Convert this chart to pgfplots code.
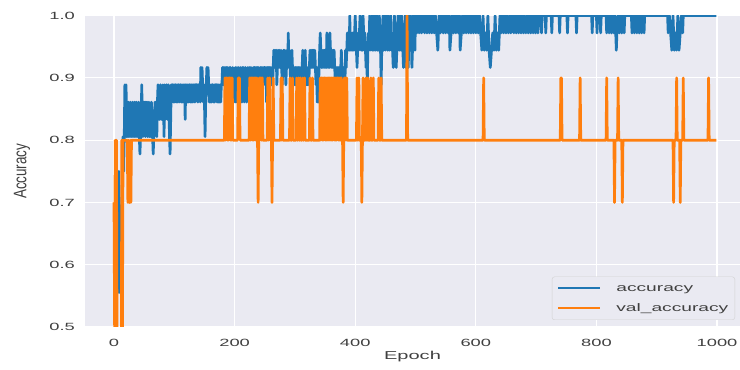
\documentclass[border=0pt]{standalone}
\usepackage{pgfplots}
\pgfplotsset{compat=1.18}
\usepackage{fontspec}
\setmainfont{Liberation Sans}
\usepackage{graphicx}
\definecolor{mblue}{HTML}{1F77B4}
\definecolor{morange}{HTML}{FF7F0E}
\definecolor{sbg}{HTML}{EAEAF2}
\definecolor{txt}{HTML}{404040}
\newcommand{\sx}[1]{\scalebox{1.75}[1]{#1}}
\begin{document}
\begin{tikzpicture}
\useasboundingbox (0,0) rectangle (740bp,370bp);
\begin{axis}[
  at={(85bp,43bp)}, anchor=south west,
  scale only axis, width=655bp, height=311.4bp,
  xmin=-48.1, xmax=1038.1, ymin=0.5, ymax=1.0,
  axis background/.style={fill=sbg},
  axis line style={draw=none},
  major tick length=0pt,
  grid=major, major grid style={white, line width=1.1bp},
  xtick={0,200,400,600,800,1000},
  ytick={0.5,0.6,0.7,0.8,0.9,1.0},
  tick label style={font=\fontsize{10.5}{12}\selectfont, text=txt},
  label style={font=\fontsize{11.5}{13}\selectfont, text=txt},
  yticklabel={\sx{\pgfmathprintnumber[fixed,fixed zerofill,precision=1,assume math mode=true]{\tick}}},
  xticklabel={\sx{\pgfmathprintnumber[int detect,1000 sep={},assume math mode=true]{\tick}}},
  yticklabel style={anchor=east, inner sep=0pt, xshift=-10bp},
  xticklabel style={anchor=north, inner sep=0pt, yshift=-12bp},
  xlabel={\sx{Epoch}},
  ylabel={\fontsize{13.5}{15}\selectfont\scalebox{1}[1.35]{Accuracy}},
  xlabel style={at={(axis description cs:0.5,-0.0963)}, anchor=center},
  ylabel style={at={(axis description cs:-0.0962,0.5)}, anchor=center, rotate=0},
  legend cell align=left,
  legend image code/.code={\draw[#1, line width=1.8bp] (0bp,0bp) -- (42bp,0bp);},
  legend style={at={(1,0)}, anchor=south east, xshift=-5bp, yshift=7bp,
    fill=sbg, draw=black!18, rounded corners=2.5bp,
    font=\fontsize{11}{13}\selectfont, text=txt,
    inner sep=5.5bp, row sep=8bp, column sep=14bp,
    nodes={inner sep=1bp, text height=8bp, text depth=2bp}},
  every axis plot/.append style={line width=2.7bp, line join=round},
]
\addplot[mblue] coordinates {
(0,.5556)(1,.5556)(2,.5833)(3,.5556)(4,.5556)(5,.5556)(6,.5556)(7,.5556)(8,.75)(9,.5556)(10,.5556)(11,.6944)(12,.6944)(13,.6389)(14,.7222)(15,.8056)(16,.75)(17,.8056)(18,.8889)(19,.8056)
(20,.8889)(21,.8056)(22,.8333)(23,.8056)(24,.8611)(25,.8056)(26,.8333)(27,.8611)(28,.8056)(29,.8333)(30,.8056)(31,.8611)(32,.8333)(33,.8056)(34,.8611)(35,.8056)(36,.8333)(37,.8611)(38,.8056)(39,.8333)
(40,.8056)(41,.8611)(42,.8056)(43,.7778)(44,.8056)(45,.8333)(46,.8889)(47,.8333)(48,.8056)(49,.8611)(50,.8333)(51,.8611)(52,.8056)(53,.8611)(54,.8333)(55,.8611)(56,.8056)(57,.8333)(58,.8611)(59,.8056)
(60,.8333)(61,.8056)(62,.8611)(63,.8333)(64,.8056)(65,.7778)(66,.8056)(67,.8333)(68,.8611)(69,.8333)(70,.8611)(71,.8056)(72,.8611)(73,.8889)(74,.8611)(75,.8333)(76,.8611)(77,.8889)(78,.8333)(79,.8611)
(80,.8333)(81,.8889)(82,.8611)(83,.8056)(84,.8889)(85,.8333)(86,.8611)(87,.8889)(88,.8611)(89,.8333)(90,.8889)(91,.8611)(92,.8056)(93,.7778)(94,.8333)
(95,.8889)(96,.8611)(97,.8889)(98,.8889)(99,.8611)(100,.8889)(101,.8611)(102,.8889)(103,.8889)(104,.8611)(105,.8889)(106,.8611)(107,.8889)(108,.8889)(109,.8611)(110,.8889)(111,.8889)(112,.8611)(113,.8889)(114,.8611)
(115,.8889)(116,.8611)(117,.8889)(118,.8333)(119,.8889)(120,.8611)(121,.8889)(122,.8611)(123,.8889)(124,.8611)(125,.8889)(126,.8889)(127,.8611)(128,.8889)(129,.8611)(130,.8889)(131,.8611)(132,.8889)(133,.8889)(134,.8611)
(135,.8889)(136,.8889)(137,.8889)(138,.8889)(139,.8611)(140,.8889)(141,.8889)(142,.8889)(143,.8611)
(144,.9167)(145,.8889)(146,.9167)(147,.8889)(148,.8611)(149,.8889)(150,.8611)(151,.8056)(152,.8611)(153,.8889)(154,.9167)(155,.8889)(156,.9167)(157,.8889)(158,.8611)(159,.8889)
(160,.8611)(161,.8889)(162,.8611)(163,.8889)(164,.8889)(165,.8611)(166,.8889)(167,.8611)(168,.8889)(169,.8889)(170,.8889)(171,.8611)(172,.8889)(173,.8611)(174,.8889)(175,.8611)(176,.8889)(177,.8611)(178,.8889)(179,.8889)
(180,.9167)(181,.8889)(182,.9167)(183,.8889)(184,.9167)(185,.8611)(186,.9167)(187,.8889)(188,.9167)(189,.8889)(190,.8611)(191,.9167)(192,.8889)(193,.9167)(194,.8889)(195,.8611)(196,.8889)(197,.9167)
(198,.8889)(199,.8611)(200,.8889)(201,.9167)(202,.8611)(203,.8889)(204,.9167)(205,.8611)(206,.8889)(207,.9167)(208,.8889)(209,.8611)(210,.9167)(211,.8889)(212,.8611)(213,.9167)(214,.8889)(215,.9167)(216,.8611)(217,.8889)
(218,.9167)(219,.8889)(220,.8611)(221,.8889)(222,.9167)(223,.8889)(224,.8611)(225,.9167)(226,.8889)(227,.9167)(228,.8889)(229,.8611)
(230,.8889)(231,.9167)(232,.8889)(233,.9167)(234,.9167)(235,.8889)(236,.9167)(237,.8889)(238,.9167)(239,.8889)(240,.9167)(241,.8889)(242,.8611)(243,.9167)(244,.8889)(245,.9167)(246,.8889)(247,.9167)(248,.8889)(249,.9167)
(250,.9167)(251,.8889)(252,.9167)(253,.8611)(254,.9167)(255,.8889)(256,.9167)(257,.8889)(258,.9167)(259,.8889)(260,.9167)(261,.8889)(262,.9167)(263,.8889)(264,.9167)
(265,.9444)(266,.9167)(267,.9444)(268,.9167)(269,.9444)(270,.8889)(271,.9167)(272,.9444)(273,.9167)(274,.9444)(275,.9167)(276,.9167)(277,.9444)(278,.9167)(279,.8889)(280,.9167)(281,.9444)(282,.9167)(283,.9444)(284,.9167)
(285,.8889)(286,.9167)(287,.9444)(288,.9167)(289,.9722)(290,.9167)(291,.9444)(292,.9167)(293,.8889)(294,.9167)(295,.9444)
(296,.9167)(297,.8889)(298,.9167)(299,.8889)(300,.9167)(301,.8889)(302,.9167)(303,.8889)(304,.9167)(305,.8889)(306,.9167)(307,.8889)(308,.9167)(309,.8889)(310,.9167)(311,.8889)(312,.9167)(313,.9444)(314,.9167)(315,.8889)
(316,.9167)(317,.9444)(318,.9167)(319,.8889)(320,.9167)(321,.8889)(322,.9167)(323,.8889)(324,.9167)(325,.9444)
(326,.9167)(327,.9444)(328,.9167)(329,.9444)(330,.9167)(331,.9444)(332,.9167)(333,.9444)(334,.9167)(335,.8889)(336,.9167)(337,.8611)(338,.8889)(339,.8611)(340,.9167)(341,.9444)(342,.9722)(343,.9444)(344,.9167)(345,.9444)
(346,.9167)(347,.9444)(348,.9167)(349,.9444)(350,.9167)(351,.9444)(352,.9167)(353,.9722)(354,.9444)(355,.9167)(356,.9444)(357,.9167)(358,.9722)(359,.9444)(360,.9167)(361,.9444)(362,.9167)(363,.9444)(364,.9167)(365,.9444)(366,.9167)
(367,.8889)(368,.9167)(369,.8889)(370,.9167)(371,.8889)(372,.9167)(373,.8889)(374,.9167)(375,.8889)(376,.9167)(377,.9444)(378,.9167)(379,.8889)(380,.9167)(381,.8889)(382,.9167)(383,.8889)(384,.9444)(385,.9167)(386,.9444)
(387,.9722)(388,.9444)(389,.9722)(390,.9444)(391,1)(392,.9444)(393,.9722)(394,.9444)(395,.9722)(396,.9444)(397,.9722)(398,.9444)(399,.9722)(400,1)(401,.9722)(402,.9444)(403,.9167)(404,.9444)(405,.9722)(406,.9444)
(407,.9722)(408,1)(409,.9722)(410,.9444)(411,.9722)(412,.9444)(413,1)(414,.9722)(415,.9444)(416,.9722)(417,.9444)(418,.9167)(419,.9444)(420,.8889)(421,.9444)
(422,.9722)(423,.9444)(424,1)(425,.9722)(426,.9444)(427,.9722)(428,1)(429,.9444)(430,.9722)(431,.9444)(432,1)(433,.9722)(434,.9444)(435,.9722)(436,1)(437,.9444)(438,.9722)(439,.9444)(440,1)(441,.9722)(442,.9444)(443,.8889)(444,.9444)
(445,.9722)(446,1)(447,.9444)(448,.9722)(449,1)(450,.9444)(451,.9722)(452,1)(453,.9722)(454,.9444)(455,1)(456,.9722)(457,.9444)(458,.9722)(459,1)(460,.9444)(461,.9722)(462,.9444)(463,.9167)(464,.9444)
(465,1)(466,.9722)(467,.9444)(468,.9167)(469,.9444)(470,.9722)(471,1)(472,.9722)(473,.9444)(474,1)(475,.9722)(476,.9444)(477,1)(478,.9722)(479,.9444)(480,.9167)(481,.9444)(482,.9722)(483,1)
(484,.9167)(485,.9722)(486,.9444)(487,1)(488,.9167)(489,.9722)(490,1)(491,.9444)(492,1)(493,.9722)(494,.9167)(495,.9444)(496,1)(497,.9722)(498,1)(499,.9444)
(500,1)(502,.9722)(504,1)(506,.9722)(508,1)(510,.9722)(512,1)(514,1)(515,.9722)(517,1)(519,.9722)(521,1)(523,.9722)(525,1)(527,.9722)(529,1)(531,.9722)(533,1)(535,.9722)(537,.9444)(539,1)(541,.9722)(543,1)(545,1)(546,.9722)(548,1)(550,.9722)(552,1)(554,.9722)(556,1)(557,.9444)(559,.9722)(561,1)(563,.9722)(565,1)(567,.9722)(569,1)(571,.9722)(573,1)(574,.9444)(576,.9722)(578,1)(580,.9722)(582,1)(584,.9722)(586,1)(588,.9722)(590,1)(592,.9722)(594,1)(596,.9722)(598,1)(600,.9722)(602,1)(604,.9722)(606,1)
(608,.9722)(610,.9444)(612,1)(614,.9444)(616,.9722)(618,.9444)(620,1)(622,.9444)(624,.9167)(626,.9444)(628,.9722)(630,.9444)(632,1)(634,.9444)(636,.9722)(638,.9444)(640,1)(642,.9722)(644,1)
(646,.9722)(648,1)(650,.9722)(652,1)(654,.9722)(656,1)(658,.9722)(660,1)(662,1)(663,.9722)(665,1)(667,.9722)(669,1)(671,.9722)(673,1)(675,.9722)(677,1)(679,.9722)(681,1)(683,.9722)(685,1)(687,.9722)(689,1)(691,.9722)(693,1)(695,.9722)(697,1)(699,.9722)(701,1)(703,.9722)(705,1)
(708,1)(709,.9722)(710,1)(715,1)(716,.9722)(717,1)(725,1)(726,.9722)(727,1)(738,1)(739,.9722)(740,1)(751,1)(752,.9722)(753,1)(766,1)(767,.9722)(768,1)
(792,1)(793,.9722)(794,1)(800,1)(801,.9722)(802,1)(806,1)(807,.9722)(808,1)
(816,1)(817,.9722)(819,1)(821,.9722)(823,1)(825,.9722)(827,1)(829,.9722)(831,1)(832,.9722)(833,.9444)(834,.9722)(836,1)(838,.9722)(840,1)(842,.9722)(844,1)(846,.9722)(847,1)
(858,1)(859,.9722)(861,1)(863,.9722)(865,1)(867,.9722)(869,1)(871,.9722)(873,1)(875,.9722)(877,1)(879,.9722)(880,1)
(918,1)(919,.9722)(921,1)(923,.9722)(925,.9444)(927,1)(929,.9444)(931,.9722)(933,.9444)(935,1)(937,.9444)(939,.9722)(941,1)(943,.9722)(944,1)(999,1)
};
\addlegendentry{\sx{accuracy}}
\addplot[morange] coordinates {
(0,.7)(1,.5)(2,.8)(3,.7)(4,.8)(5,.5)(6,.4)(12,.4)(13,.8)(14,.5)(15,.8)(22,.8)(23,.7)(24,.8)(25,.7)(26,.7)(27,.8)(28,.7)(29,.8)
(183,.8)(184,.9)(185,.8)(186,.9)(187,.9)(188,.8)(189,.9)(190,.8)(191,.9)(192,.9)(193,.8)(194,.9)(195,.8)(196,.9)(197,.8)
(205,.8)(206,.9)(208,.9)(209,.8)
(224,.8)(225,.9)(226,.8)(227,.9)(228,.9)(229,.8)(230,.9)(231,.8)(232,.9)(233,.9)(234,.8)(235,.9)(236,.8)(237,.9)(238,.8)(239,.7)(240,.8)(241,.9)(242,.8)(243,.9)(244,.9)(245,.8)(246,.9)(247,.8)
(254,.8)(255,.9)(256,.8)(258,.9)(259,.8)(261,.8)(262,.7)(263,.8)(264,.9)(265,.8)
(276,.8)(277,.9)(278,.8)(279,.9)(280,.8)
(291,.8)(292,.9)(293,.8)(295,.8)(296,.9)(297,.8)
(302,.8)(303,.9)(304,.8)(305,.8)(306,.9)(307,.8)(308,.8)(309,.9)(310,.8)(312,.8)(313,.9)(314,.8)(315,.8)(316,.9)(317,.8)
(324,.8)(325,.9)(326,.8)(328,.8)(329,.9)(330,.8)
(341,.8)(342,.9)(343,.8)(344,.9)(345,.9)(346,.8)(347,.9)(348,.8)(349,.9)(350,.9)(351,.8)(352,.9)(353,.8)(354,.9)(355,.8)(356,.9)(357,.9)(358,.8)(359,.9)(360,.8)(361,.9)(362,.8)(363,.9)(364,.9)(365,.8)(366,.9)(367,.8)(368,.9)(369,.8)(370,.9)(371,.9)(372,.8)(373,.9)(374,.8)(375,.9)(376,.8)(377,.9)(378,.8)(379,.8)(380,.7)(381,.8)(382,.9)(383,.8)(384,.9)(385,.8)(386,.9)(387,.8)
(402,.8)(403,.9)(404,.8)(405,.8)(406,.9)(407,.8)(410,.8)(411,.7)(412,.8)(413,.9)(414,.8)(417,.8)(418,.9)(419,.8)(420,.8)(421,.9)(422,.8)(425,.8)(426,.9)(427,.8)(429,.8)(430,.9)(431,.8)(438,.8)(439,.9)(440,.8)(442,.8)(443,.9)(444,.8)
(485,.8)(486,1)(487,.8)
(612,.8)(613,.9)(614,.8)
(740,.8)(741,.9)(742,.9)(743,.8)
(772,.8)(773,.9)(774,.8)
(816,.8)(817,.9)(818,.8)
(829,.8)(830,.7)(831,.8)
(835,.8)(836,.9)(837,.8)
(842,.8)(843,.7)(844,.8)
(927,.8)(928,.7)(929,.8)
(932,.8)(933,.9)(934,.8)
(938,.8)(939,.7)(940,.8)
(943,.8)(944,.9)(945,.8)
(985,.8)(986,.9)(987,.8)
(999,.8)
};
\addlegendentry{\sx{val\_accuracy}}
\end{axis}
\end{tikzpicture}
\end{document}
